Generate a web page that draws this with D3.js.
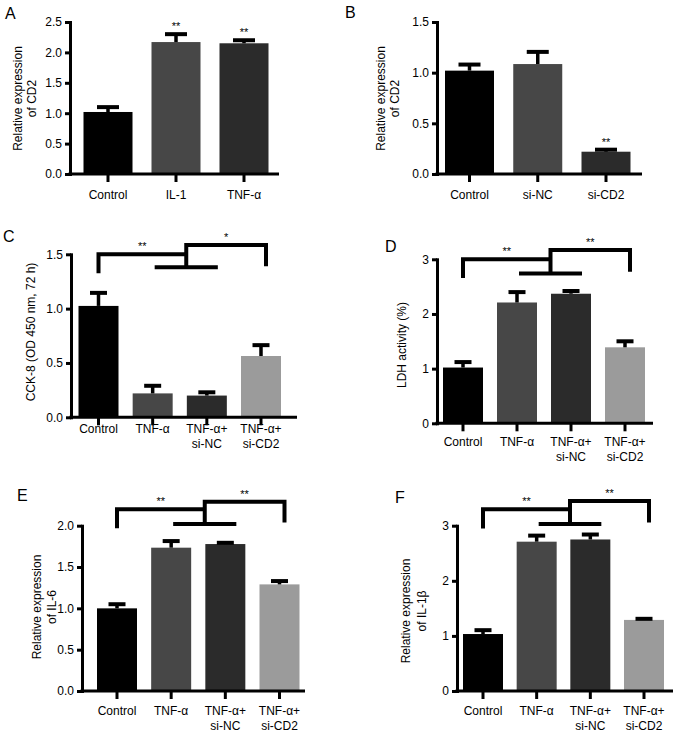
<!DOCTYPE html>
<html><head><meta charset="utf-8">
<script src="https://cdn.jsdelivr.net/npm/d3@7"></script>
<style>
body{margin:0;background:#fff}
svg{display:block}
text{font-family:"Liberation Sans",Arial,Helvetica,sans-serif;fill:#000}
</style>
</head><body><svg id="chart" width="677" height="733"></svg>
<script>
// ---------------- data ----------------
const catsA = ["Control", "IL-1", "TNF-α"];
const valsA = [1.02, 2.17, 2.15];
const errsA = [0.08, 0.13, 0.05];
const ticksA = [0, 0.5, 1.0, 1.5, 2.0, 2.5];
const sigA = [null, "**", "**"];

const catsB = ["Control", "si-NC", "si-CD2"];
const valsB = [1.02, 1.085, 0.22];
const errsB = [0.06, 0.12, 0.02];
const ticksB = [0, 0.5, 1.0, 1.5];
const sigB = [null, null, "**"];

const catsTreat = ["Control", "TNF-α", "TNF-α+\nsi-NC", "TNF-α+\nsi-CD2"];

const valsC = [1.025, 0.22, 0.20, 0.564];
const errsC = [0.12, 0.07, 0.03, 0.10];
const ticksC = [0, 0.5, 1.0, 1.5];
const bracketC = [1.5, 1.325, 1.38, 1.586, 1.39]; // leftTop, leftBottom, group, rightTop, rightBottom
const starsC = ["**", "*"];

const valsD = [1.02, 2.21, 2.37, 1.39];
const errsD = [0.10, 0.19, 0.05, 0.11];
const ticksD = [0, 1, 2, 3];
const bracketD = [3.0, 2.66, 2.74, 3.17, 2.77];
const starsD = ["**", "**"];

const valsE = [1.0, 1.734, 1.778, 1.29];
const errsE = [0.05, 0.08, 0.015, 0.04];
const ticksE = [0, 0.5, 1.0, 1.5, 2.0];
const bracketE = [2.198, 1.968, 2.02, 2.29, 2.04];
const starsE = ["**", "**"];

const valsF = [1.034, 2.71, 2.75, 1.29];
const errsF = [0.07, 0.11, 0.09, 0.02];
const ticksF = [0, 1, 2, 3];
const bracketF = [3.30, 2.95, 3.03, 3.45, 3.06];
const starsF = ["**", "**"];

// ---------------- styles ----------------
const pal3 = ["#000000", "#474747", "#2b2b2b"];
const pal4 = ["#000000", "#474747", "#2b2b2b", "#9b9b9b"];

const svg = d3.select("#chart");

function drawPanel(cfg, cats, vals, errs, ticks, colors, sig, bracket, stars) {
  const g = svg.append("g");
  const n = cats.length;
  const s = (cfg.cN - cfg.c0) / (n - 1);
  const p = 1 - cfg.bw / s;
  const x = d3.scaleBand().domain(cats).range([cfg.c0 - s / 2, cfg.cN + s / 2])
    .paddingInner(p).paddingOuter(p / 2);
  const y = d3.scaleLinear().domain([0, ticks[ticks.length - 1]]).range([cfg.yBot, cfg.yTop]);
  const cx = c => x(c) + x.bandwidth() / 2;

  // bars
  g.selectAll("rect.bar").data(cats).join("rect")
    .attr("x", c => x(c)).attr("width", x.bandwidth())
    .attr("y", (c, i) => y(vals[i])).attr("height", (c, i) => cfg.yBot - y(vals[i]))
    .attr("fill", (c, i) => colors[i]);

  // error bars
  const capW = cfg.capW;
  cats.forEach((c, i) => {
    const top = y(vals[i] + errs[i]);
    g.append("line").attr("x1", cx(c)).attr("x2", cx(c))
      .attr("y1", y(vals[i])).attr("y2", top)
      .attr("stroke", "#000").attr("stroke-width", 3.5);
    g.append("line").attr("x1", cx(c) - capW / 2).attr("x2", cx(c) + capW / 2)
      .attr("y1", top).attr("y2", top)
      .attr("stroke", "#000").attr("stroke-width", 4);
    if (sig && sig[i]) {
      g.append("text").attr("x", cx(c)).attr("y", top - 4)
        .attr("text-anchor", "middle").attr("font-size", 11).text(sig[i]);
    }
  });

  // y axis
  const ya = g.append("g").attr("transform", `translate(${cfg.axisX},0)`)
    .call(d3.axisLeft(y).tickValues(ticks).tickFormat(d3.format(cfg.fmt))
      .tickSize(5).tickSizeOuter(0).tickPadding(3));
  ya.select(".domain").attr("stroke-width", 3).attr("stroke-linecap", "square");
  ya.selectAll(".tick line").attr("stroke-width", 3);
  ya.selectAll("text").attr("font-size", 12).attr("font-family", null).attr("fill", "#000");
  ya.attr("font-family", null);

  // x axis
  g.append("line").attr("x1", cfg.axisX - 1.5).attr("x2", cfg.xEnd)
    .attr("y1", cfg.yBot).attr("y2", cfg.yBot)
    .attr("stroke", "#000").attr("stroke-width", 3);
  const xa = g.append("g").attr("transform", `translate(0,${cfg.yBot})`)
    .call(d3.axisBottom(x).tickSize(8).tickSizeOuter(0));
  xa.select(".domain").remove();
  xa.attr("font-family", null);
  xa.selectAll(".tick line").attr("stroke-width", 3);
  xa.selectAll(".tick text").each(function (d) {
    const t = d3.select(this);
    t.text(null).attr("y", cfg.labOff).attr("dy", null).attr("font-size", 12).attr("fill", "#000");
    d.split("\n").forEach((line, k) => {
      t.append("tspan").attr("x", 0).attr("dy", k === 0 ? 0 : "1.25em").text(line);
    });
  });

  // y title
  cfg.titles.forEach((tt, k) => {
    g.append("text")
      .attr("transform", `translate(${cfg.titleX[k]},${cfg.titleY}) rotate(-90)`)
      .attr("dy", "0.35em").attr("text-anchor", "middle").attr("font-size", 12).text(tt);
  });

  // panel label
  g.append("text").attr("x", cfg.lx).attr("y", cfg.ly).attr("font-size", 16).text(cfg.label);

  // brackets
  if (bracket) {
    const [lTop, lBot, grp, rTop, rBot] = bracket;
    const x0 = cx(cats[0]);
    const g1 = cx(cats[1]) + 2;
    const g2 = cx(cats[2]) + 11;
    const stem = (g1 + g2) / 2;
    const x3 = cx(cats[3]) + 5;
    const path = d3.path();
    path.moveTo(x0, y(lBot)); path.lineTo(x0, y(lTop)); path.lineTo(stem, y(lTop));
    path.moveTo(g1, y(grp)); path.lineTo(g2, y(grp));
    path.moveTo(stem, y(grp)); path.lineTo(stem, y(rTop)); path.lineTo(x3, y(rTop)); path.lineTo(x3, y(rBot));
    g.append("path").attr("d", path.toString()).attr("fill", "none")
      .attr("stroke", "#000").attr("stroke-width", 4).attr("stroke-linejoin", "miter");
    g.append("text").attr("x", (x0 + stem) / 2).attr("y", y(lTop) - 4)
      .attr("text-anchor", "middle").attr("font-size", 11).text(stars[0]);
    g.append("text").attr("x", (stem + x3) / 2).attr("y", y(rTop) - 4)
      .attr("text-anchor", "middle").attr("font-size", 11).text(stars[1]);
  }
}

drawPanel({label: "A", lx: 5, ly: 19, axisX: 70, xEnd: 279, yTop: 22, yBot: 174, c0: 108, cN: 244, bw: 49,
  capW: 22, fmt: ".1f", labOff: 25, titles: ["Relative expression", "of CD2"], titleX: [18, 32], titleY: 98.5},
  catsA, valsA, errsA, ticksA, pal3, sigA, null, null);

drawPanel({label: "B", lx: 345, ly: 18, axisX: 437, xEnd: 642, yTop: 22, yBot: 174, c0: 469.5, cN: 606, bw: 49,
  capW: 22, fmt: ".1f", labOff: 25, titles: ["Relative expression", "of CD2"], titleX: [381, 395], titleY: 98.5},
  catsB, valsB, errsB, ticksB, pal3, sigB, null, null);

drawPanel({label: "C", lx: 3, ly: 242, axisX: 71, xEnd: 297, yTop: 254.3, yBot: 417.3, c0: 98.5, cN: 261, bw: 40,
  capW: 17, fmt: ".1f", labOff: 16, titles: ["CCK-8 (OD 450 nm, 72 h)"], titleX: [31], titleY: 332},
  catsTreat, valsC, errsC, ticksC, pal4, null, bracketC, starsC);

drawPanel({label: "D", lx: 385, ly: 252, axisX: 437, xEnd: 653, yTop: 259.3, yBot: 423.3, c0: 463, cN: 625, bw: 40,
  capW: 17, fmt: "d", labOff: 23, titles: ["LDH activity (%)"], titleX: [402], titleY: 345},
  catsTreat, valsD, errsD, ticksD, pal4, null, bracketD, starsD);

drawPanel({label: "E", lx: 17, ly: 501, axisX: 82, xEnd: 305, yTop: 525.7, yBot: 691, c0: 117, cN: 279.5, bw: 40,
  capW: 17, fmt: ".1f", labOff: 24, titles: ["Relative expression", "of IL-6"], titleX: [37, 52], titleY: 607},
  catsTreat, valsE, errsE, ticksE, pal4, null, bracketE, starsE);

drawPanel({label: "F", lx: 395, ly: 503, axisX: 457, xEnd: 673, yTop: 525.7, yBot: 691, c0: 483, cN: 644, bw: 40,
  capW: 17, fmt: "d", labOff: 24, titles: ["Relative expression", "of IL-1β"], titleX: [406, 421.5], titleY: 611},
  catsTreat, valsF, errsF, ticksF, pal4, null, bracketF, starsF);
</script>
</body></html>
